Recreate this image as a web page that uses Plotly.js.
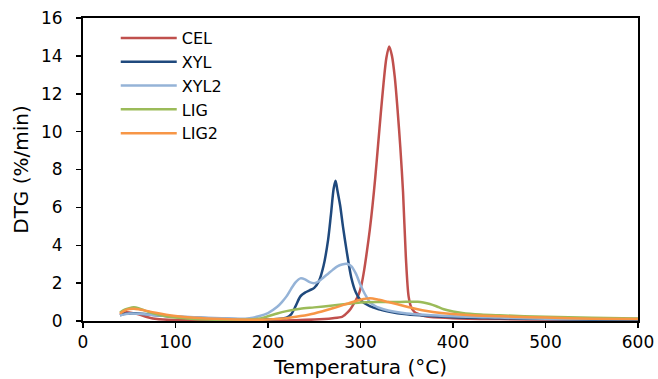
<!DOCTYPE html>
<html>
<head>
<meta charset="utf-8">
<script src="https://cdn.plot.ly/plotly-3.0.1.min.js"></script>
<style>html,body{margin:0;padding:0;background:#fff;}#chart{width:658px;height:379px;}</style>
</head>
<body>
<div id="chart"></div>
<script>
// Temperature (°C) and DTG (%/min) for each sample
const celT = [40,45,50,60,70,80,100,150,200,250,270,280,283,286,289,292,295,298,301,304,307,310,313,316,319,322,325,328,331,334,337,340,343,346,349,352,355,358,361,370,400,450,500,600];
const celV = [0.35,0.45,0.45,0.35,0.2,0.1,0.05,0.02,0.02,0.08,0.15,0.22,0.32,0.45,0.62,0.85,1.1,1.4,1.9,2.7,3.7,4.8,6.1,7.6,9.3,11.0,12.6,13.9,14.5,14.0,12.9,11.2,9.2,6.8,3.4,1.3,0.7,0.5,0.4,0.25,0.15,0.1,0.08,0.08];

const xylT = [40,45,50,60,70,80,100,120,150,180,200,210,220,225,230,235,240,245,250,255,260,265,268,271,273,275,278,281,285,290,295,300,310,320,330,350,400,450,500,550,600];
const xylV = [0.3,0.38,0.4,0.4,0.35,0.3,0.22,0.18,0.12,0.08,0.08,0.1,0.18,0.35,0.8,1.3,1.5,1.62,1.75,2.1,2.9,4.3,5.6,7.0,7.4,6.9,6.1,5.0,3.7,2.3,1.5,1.1,0.78,0.62,0.5,0.35,0.2,0.15,0.1,0.07,0.05];

const xyl2T = [40,45,50,60,80,100,120,150,170,180,190,200,210,215,220,225,230,235,240,245,250,255,260,265,270,275,280,285,290,295,300,305,310,315,320,330,350,400,450,500,550,600];
const xyl2V = [0.3,0.35,0.4,0.38,0.3,0.25,0.2,0.15,0.12,0.15,0.25,0.42,0.75,1.0,1.3,1.7,2.05,2.25,2.2,2.05,2.0,2.1,2.3,2.5,2.7,2.88,2.98,3.02,2.9,2.5,1.9,1.4,1.0,0.82,0.7,0.55,0.4,0.25,0.18,0.12,0.1,0.1];

const ligT = [40,45,50,55,60,70,80,90,100,120,150,170,190,200,210,220,235,250,270,290,300,320,340,355,362,368,375,382,390,400,410,430,450,500,550,600];
const ligV = [0.45,0.6,0.68,0.72,0.68,0.5,0.35,0.25,0.18,0.1,0.06,0.06,0.12,0.25,0.4,0.52,0.65,0.72,0.82,0.92,0.98,1.0,1.0,1.02,1.02,0.98,0.9,0.78,0.62,0.5,0.42,0.34,0.3,0.22,0.17,0.13];

const lig2T = [40,45,50,55,60,70,80,90,100,120,150,180,200,220,235,250,270,290,300,310,320,330,340,357,375,393,420,465,500,550,600];
const lig2V = [0.4,0.55,0.63,0.65,0.62,0.52,0.42,0.33,0.26,0.17,0.1,0.07,0.08,0.15,0.26,0.4,0.67,0.98,1.12,1.2,1.12,1.0,0.88,0.67,0.5,0.4,0.3,0.23,0.18,0.12,0.1];

const seriesNames = ['CEL','XYL','XYL2','LIG','LIG2'];
const colors = ['#C0504D','#1F497D','#95B3D7','#9BBB59','#F79646'];
const xs = [celT, xylT, xyl2T, ligT, lig2T];
const ys = [celV, xylV, xyl2V, ligV, lig2V];

const FONT = '"DejaVu Sans", Verdana, sans-serif';

const traces = seriesNames.map((n,i)=>({
  x: xs[i], y: ys[i], name: n, type: 'scatter', mode: 'lines',
  line: {color: colors[i], width: 2.5, shape: 'spline', smoothing: 0.8}
}));

const layout = {
  width: 658, height: 379,
  margin: {l: 83, r: 20, t: 18, b: 58},
  paper_bgcolor: '#fff', plot_bgcolor: '#fff',
  font: {family: FONT, size: 16, color: '#000'},
  showlegend: true,
  legend: {x: 0.059, xanchor: 'left', y: 0.99, yanchor: 'top', bgcolor: 'rgba(0,0,0,0)',
           font: {family: FONT, size: 16, color: '#000'}, itemwidth: 56, tracegroupgap: 0},
  xaxis: {
    range: [0, 600], dtick: 100, tick0: 0,
    showgrid: false, zeroline: false,
    showline: true, linecolor: '#000', linewidth: 2, mirror: true,
    ticks: 'outside', ticklen: 5, tickwidth: 1.5, tickcolor: '#000',
    tickfont: {family: FONT, size: 17, color: '#000'},
    title: {text: 'Temperatura (°C)', font: {family: FONT, size: 20, color: '#000'}, standoff: 10}
  },
  yaxis: {
    range: [0, 16], dtick: 2, tick0: 0,
    showgrid: false, zeroline: false,
    showline: true, linecolor: '#000', linewidth: 2, mirror: true,
    ticks: 'outside', ticklen: 5, tickwidth: 1.5, tickcolor: '#000',
    ticklabelstandoff: 10,
    tickfont: {family: FONT, size: 17, color: '#000'},
    title: {text: 'DTG (%/min)', font: {family: FONT, size: 20, color: '#000'}, standoff: 7}
  }
};

Plotly.newPlot('chart', traces, layout, {displayModeBar: false, staticPlot: true});
</script>
</body>
</html>
